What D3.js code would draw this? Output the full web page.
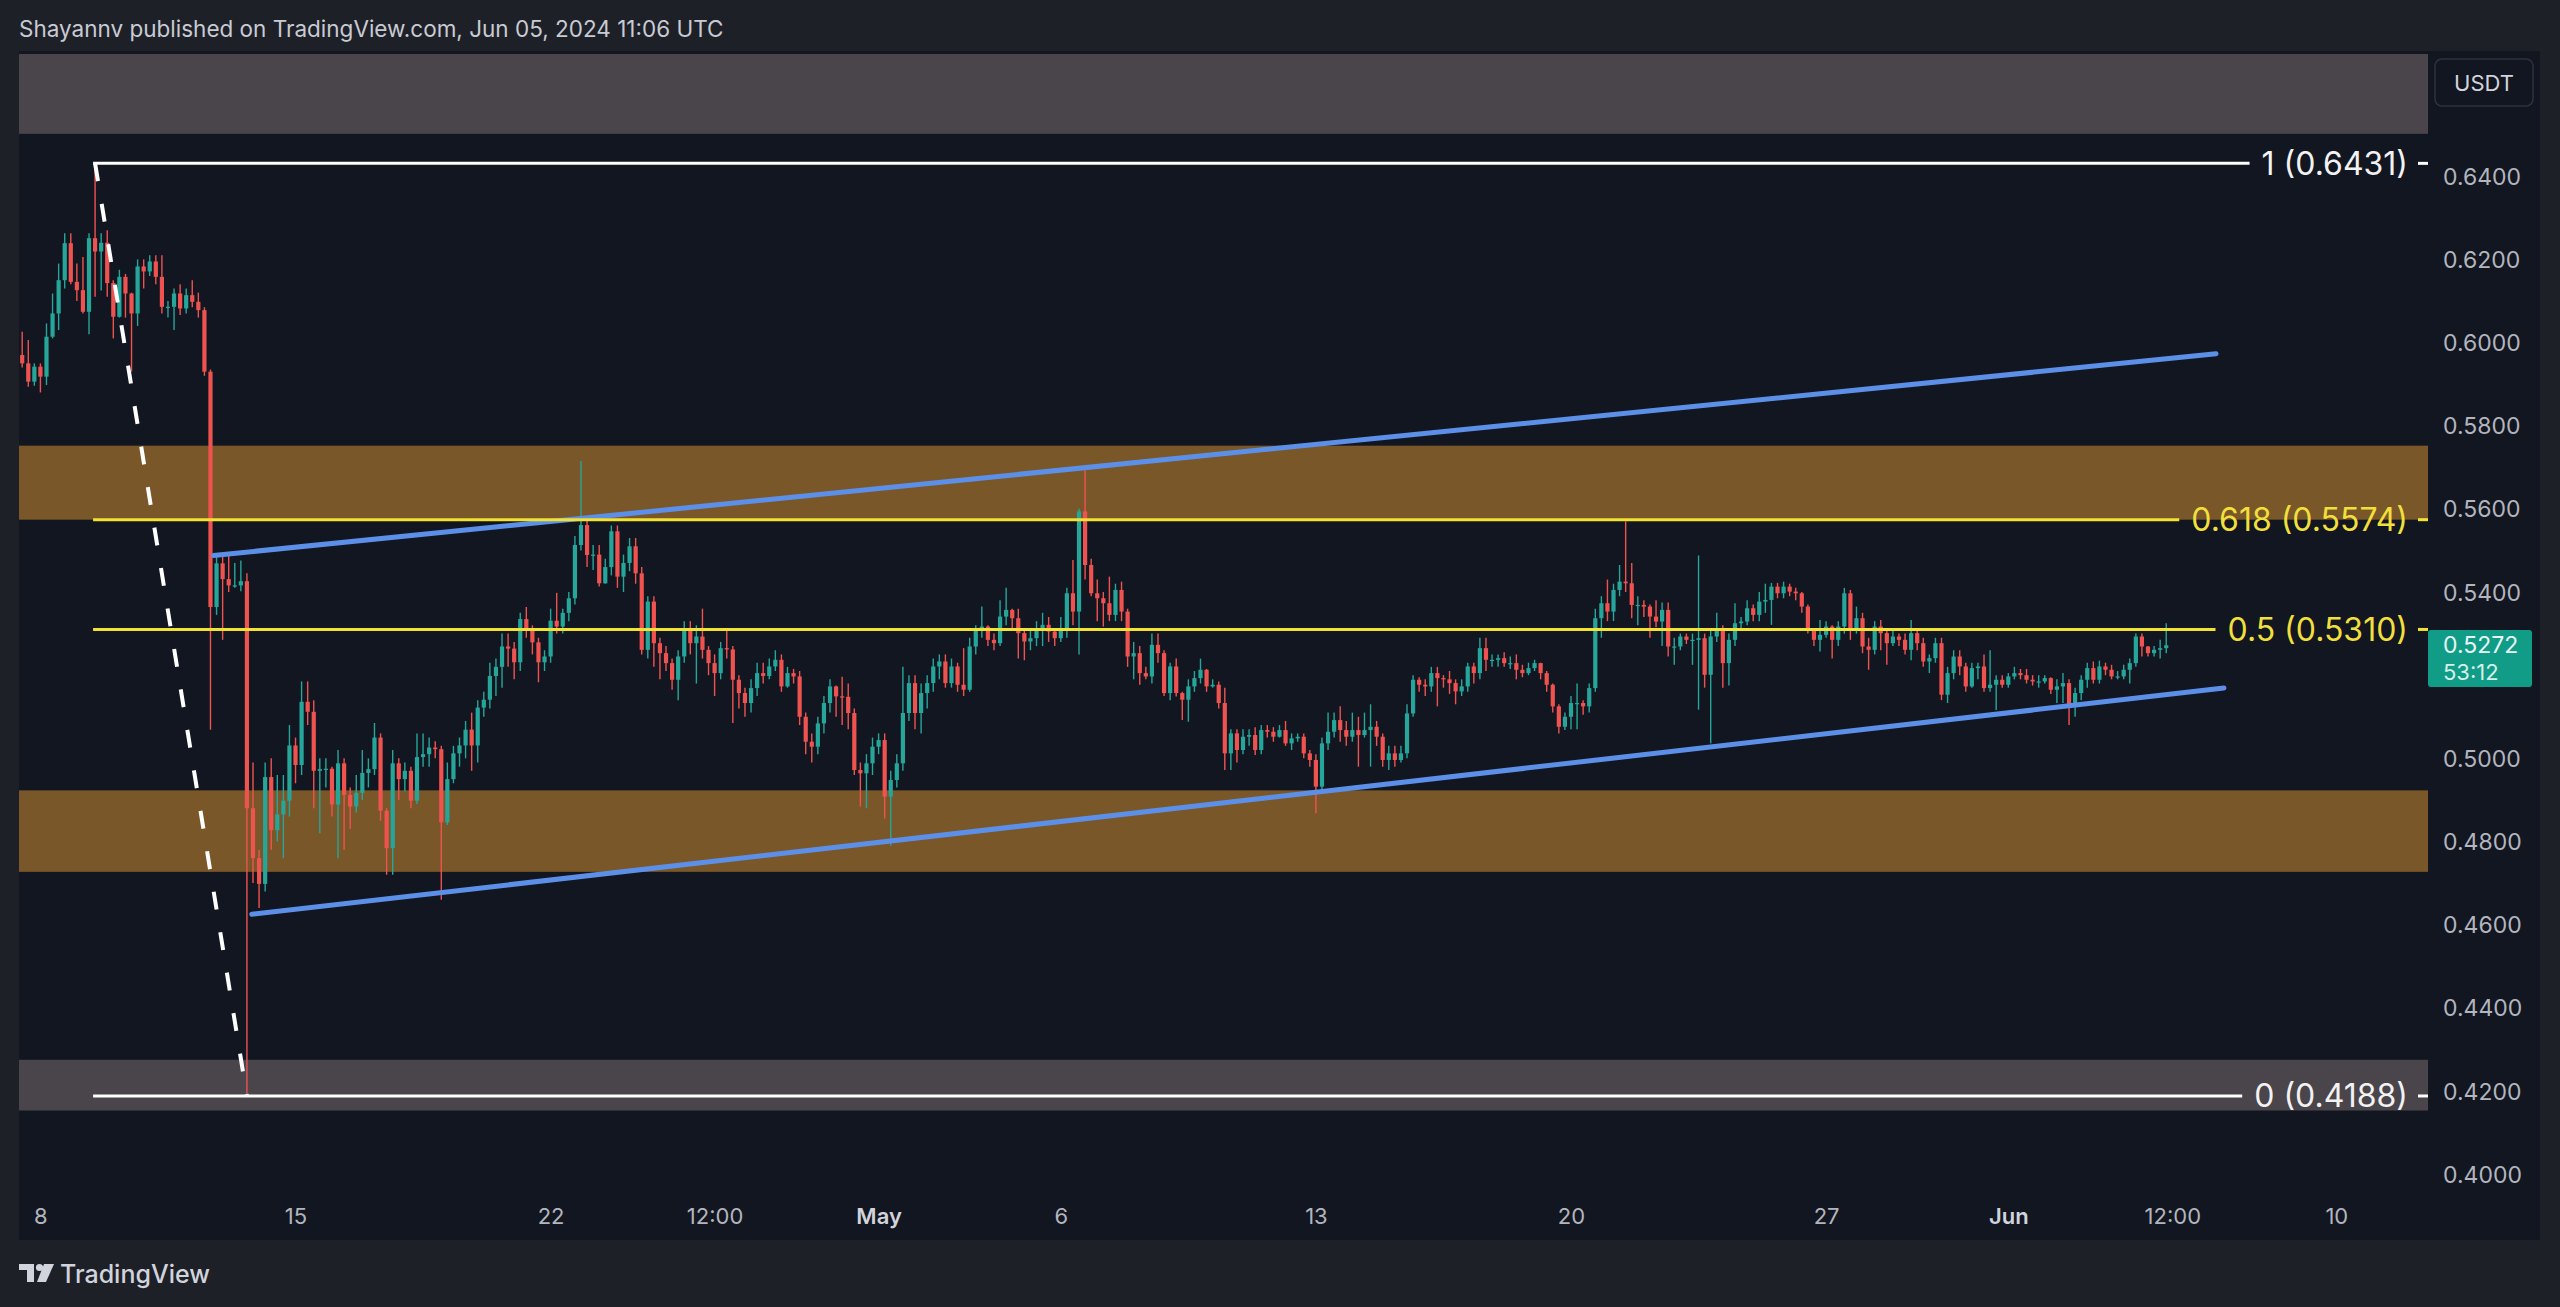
<!DOCTYPE html>
<html><head><meta charset="utf-8">
<script src="https://cdn.jsdelivr.net/npm/d3@7"></script>
<style>
html,body{margin:0;padding:0;background:#1e2028;}
svg{display:block;}
</style></head>
<body><svg id="chart" width="2560" height="1307"></svg>
<script>
// ---------------- DATA (XRP/USDT, 4h candles) ----------------
const firstBarTime = Date.UTC(2024, 3, 7, 12); // Apr 7 2024 12:00 UTC
const firstOpen = 0.5970;
const closes = [
.5950,.5906,.5942,.5918,.6014,.6070,.6150,.6239,.6146,.6126,
.6074,.6251,.6219,.6240,.6143,.6062,.6158,.6118,.6070,.6183,
.6171,.6195,.6158,.6086,.6086,.6118,.6082,.6114,.6098,.6078,
.5930,.5364,.5469,.5431,.5416,.5416,.5426,.4880,.4760,.4698,
.4955,.4827,.4865,.4898,.5031,.4984,.5136,.5112,.4970,.4974,
.4975,.4889,.4988,.4912,.4884,.4917,.4965,.4974,.5050,.4874,
.4784,.4988,.4950,.4970,.4898,.5003,.5010,.5026,.5022,.4846,
.4950,.5012,.5031,.5069,.5031,.5122,.5141,.5198,.5220,.5269,
.5264,.5231,.5335,.5307,.5279,.5231,.5245,.5331,.5317,.5350,
.5385,.5513,.5561,.5489,.5490,.5421,.5460,.5546,.5437,.5470,
.5510,.5445,.5261,.5377,.5277,.5253,.5229,.5189,.5245,.5309,
.5277,.5293,.5261,.5229,.5205,.5265,.5262,.5189,.5157,.5133,
.5169,.5205,.5198,.5221,.5237,.5173,.5205,.5197,.5100,.5040,
.5028,.5084,.5133,.5173,.5149,.5148,.5109,.4972,.4964,.4988,
.5028,.5044,.4908,.4948,.4988,.5109,.5181,.5109,.5157,.5181,
.5221,.5233,.5181,.5221,.5177,.5165,.5269,.5309,.5317,.5285,
.5277,.5341,.5357,.5337,.5301,.5281,.5289,.5313,.5321,.5305,
.5289,.5309,.5397,.5353,.5594,.5465,.5397,.5385,.5373,.5345,
.5405,.5353,.5245,.5253,.5205,.5197,.5273,.5253,.5157,.5221,
.5157,.5141,.5173,.5193,.5213,.5173,.5177,.5133,.5012,.5060,
.5020,.5052,.5056,.5020,.5068,.5064,.5052,.5068,.5036,.5048,
.5052,.5012,.4996,.4932,.5036,.5064,.5092,.5068,.5052,.5068,
.5056,.5068,.5076,.5052,.4996,.5012,.4996,.5012,.5108,.5189,
.5177,.5173,.5205,.5193,.5190,.5181,.5161,.5173,.5221,.5205,
.5265,.5237,.5237,.5241,.5229,.5229,.5213,.5205,.5217,.5229,
.5205,.5177,.5125,.5076,.5100,.5133,.5133,.5125,.5169,.5337,
.5373,.5353,.5405,.5425,.5421,.5369,.5369,.5365,.5341,.5329,
.5357,.5269,.5269,.5293,.5285,.5285,.5289,.5201,.5293,.5313,
.5229,.5285,.5325,.5329,.5361,.5345,.5377,.5381,.5413,.5397,
.5413,.5401,.5397,.5365,.5309,.5285,.5297,.5317,.5285,.5317,
.5397,.5309,.5337,.5269,.5261,.5317,.5301,.5277,.5293,.5285,
.5261,.5301,.5277,.5233,.5241,.5277,.5153,.5205,.5245,.5221,
.5173,.5217,.5221,.5169,.5177,.5189,.5177,.5197,.5205,.5200,
.5189,.5185,.5185,.5193,.5165,.5173,.5181,.5125,.5157,.5189,
.5217,.5189,.5221,.5213,.5197,.5197,.5213,.5229,.5293,.5269,
.5253,.5261,.5265,.5272];
const highs = [
.6026,.6006,.5950,.5950,.6046,.6118,.6190,.6263,.6263,.6190,
.6206,.6263,.6431,.6263,.6270,.6150,.6175,.6165,.6120,.6200,
.6200,.6210,.6210,.6210,.6100,.6130,.6140,.6130,.6150,.6120,
.6085,.5935,.5493,.5493,.5488,.5470,.5476,.5445,.4990,.4780,
.4990,.5000,.4960,.4960,.5080,.5050,.5185,.5185,.5140,.5000,
.5000,.4980,.5020,.5000,.4930,.4960,.5020,.5000,.5085,.5060,
.4880,.5020,.5000,.4990,.4980,.5060,.5060,.5050,.5041,.5030,
.4990,.5030,.5050,.5090,.5110,.5140,.5160,.5230,.5240,.5300,
.5300,.5280,.5350,.5364,.5320,.5290,.5260,.5360,.5398,.5360,
.5400,.5535,.5715,.5574,.5513,.5513,.5480,.5560,.5560,.5490,
.5530,.5530,.5460,.5390,.5390,.5290,.5270,.5240,.5260,.5330,
.5330,.5320,.5360,.5270,.5250,.5280,.5310,.5270,.5200,.5170,
.5190,.5230,.5230,.5240,.5260,.5250,.5220,.5215,.5210,.5110,
.5060,.5100,.5150,.5190,.5175,.5196,.5180,.5120,.4990,.5010,
.5050,.5060,.5060,.4970,.5010,.5220,.5200,.5200,.5180,.5200,
.5240,.5250,.5250,.5240,.5230,.5265,.5290,.5320,.5365,.5320,
.5300,.5380,.5410,.5360,.5360,.5310,.5310,.5330,.5350,.5340,
.5310,.5340,.5410,.5477,.5600,.5702,.5480,.5430,.5400,.5437,
.5420,.5425,.5360,.5280,.5270,.5220,.5300,.5300,.5260,.5230,
.5240,.5160,.5190,.5210,.5240,.5215,.5190,.5185,.5170,.5070,
.5070,.5070,.5070,.5075,.5080,.5080,.5075,.5080,.5090,.5060,
.5060,.5060,.5020,.5010,.5050,.5110,.5110,.5125,.5090,.5110,
.5100,.5110,.5130,.5090,.5060,.5030,.5030,.5030,.5130,.5200,
.5195,.5190,.5220,.5220,.5200,.5210,.5190,.5190,.5230,.5230,
.5290,.5290,.5250,.5250,.5255,.5245,.5250,.5225,.5230,.5237,
.5230,.5210,.5180,.5130,.5110,.5150,.5180,.5140,.5180,.5360,
.5390,.5430,.5420,.5465,.5570,.5470,.5390,.5380,.5370,.5380,
.5375,.5375,.5290,.5300,.5300,.5300,.5488,.5300,.5310,.5350,
.5320,.5300,.5373,.5340,.5380,.5370,.5400,.5420,.5422,.5422,
.5425,.5420,.5410,.5400,.5370,.5310,.5333,.5330,.5320,.5330,
.5410,.5405,.5365,.5350,.5290,.5330,.5333,.5310,.5310,.5300,
.5300,.5333,.5310,.5290,.5250,.5290,.5290,.5220,.5260,.5260,
.5230,.5230,.5230,.5250,.5260,.5200,.5200,.5205,.5220,.5215,
.5215,.5200,.5200,.5200,.5195,.5190,.5205,.5190,.5170,.5200,
.5230,.5233,.5235,.5230,.5225,.5210,.5225,.5240,.5300,.5300,
.5270,.5270,.5285,.5325];
const lows = [
.5940,.5894,.5896,.5880,.5898,.6010,.6030,.6130,.6140,.6100,
.6070,.6020,.6110,.6125,.6110,.6010,.6060,.6060,.5930,.6040,
.6130,.6160,.6140,.6070,.6060,.6030,.6066,.6070,.6085,.6060,
.5920,.5069,.5345,.5285,.5400,.5410,.5402,.4188,.4700,.4640,
.4680,.4780,.4800,.4760,.4860,.4940,.4960,.5080,.4880,.4820,
.4930,.4860,.4760,.4780,.4830,.4870,.4900,.4930,.4960,.4850,
.4720,.4720,.4900,.4920,.4880,.4890,.4980,.4980,.5000,.4660,
.4840,.4940,.4980,.5000,.4970,.4990,.5100,.5120,.5150,.5170,
.5220,.5190,.5210,.5290,.5250,.5183,.5210,.5230,.5300,.5300,
.5330,.5370,.5500,.5460,.5453,.5413,.5420,.5440,.5410,.5400,
.5450,.5420,.5250,.5240,.5220,.5190,.5210,.5165,.5140,.5230,
.5250,.5180,.5240,.5200,.5150,.5190,.5240,.5085,.5120,.5100,
.5110,.5150,.5180,.5190,.5210,.5160,.5170,.5180,.5080,.5010,
.4990,.5010,.5060,.5110,.5100,.5080,.5070,.4960,.4884,.4880,
.4960,.5010,.4855,.4790,.4930,.4970,.5090,.5070,.5060,.5120,
.5160,.5190,.5170,.5170,.5160,.5150,.5160,.5250,.5290,.5270,
.5260,.5270,.5320,.5310,.5240,.5236,.5260,.5270,.5270,.5280,
.5270,.5280,.5290,.5320,.5250,.5430,.5390,.5330,.5317,.5330,
.5330,.5330,.5220,.5190,.5177,.5190,.5180,.5230,.5150,.5140,
.5149,.5092,.5088,.5160,.5180,.5160,.5170,.5120,.4972,.4972,
.4990,.5010,.5030,.5008,.5010,.5050,.5040,.5050,.5030,.5020,
.5040,.5000,.4980,.4868,.4920,.5020,.5050,.5040,.5030,.5040,
.4980,.5050,.4980,.5030,.4980,.4972,.4980,.4990,.5000,.5100,
.5160,.5150,.5160,.5125,.5170,.5155,.5130,.5150,.5160,.5180,
.5190,.5210,.5220,.5220,.5220,.5215,.5190,.5195,.5200,.5210,
.5190,.5160,.5110,.5060,.5068,.5070,.5070,.5105,.5110,.5160,
.5290,.5330,.5330,.5390,.5400,.5337,.5320,.5340,.5290,.5315,
.5270,.5245,.5225,.5260,.5275,.5225,.5117,.5170,.5036,.5280,
.5170,.5175,.5270,.5310,.5320,.5330,.5330,.5350,.5321,.5385,
.5385,.5390,.5380,.5350,.5300,.5270,.5257,.5290,.5240,.5270,
.5300,.5285,.5300,.5253,.5213,.5250,.5260,.5225,.5270,.5270,
.5250,.5236,.5260,.5220,.5205,.5230,.5140,.5133,.5190,.5200,
.5160,.5170,.5190,.5160,.5160,.5116,.5170,.5170,.5190,.5190,
.5180,.5175,.5170,.5180,.5155,.5133,.5133,.5080,.5100,.5140,
.5170,.5180,.5180,.5200,.5190,.5190,.5190,.5180,.5220,.5245,
.5245,.5245,.5240,.5253];

// 0.5200 sits under the last-price label in the reference, so it is not shown
const yTicks = [0.40,0.42,0.44,0.46,0.48,0.50,0.54,0.56,0.58,0.60,0.62,0.64];
const xTickDates = [
  Date.UTC(2024,3,8), Date.UTC(2024,3,15), Date.UTC(2024,3,22), Date.UTC(2024,3,26,12),
  Date.UTC(2024,4,1), Date.UTC(2024,4,6), Date.UTC(2024,4,13), Date.UTC(2024,4,20),
  Date.UTC(2024,4,27), Date.UTC(2024,5,1), Date.UTC(2024,5,5,12), Date.UTC(2024,5,10)];
const xTickLabels = ["8","15","22","12:00","May","6","13","20","27","Jun","12:00","10"];
const xTickBold = ["May","Jun"];

// Fibonacci retracement drawn from the Apr 9 high (bar 12) to the Apr 13 low (bar 37)
const fibAnchorBars = [12, 37];
const fibLevels = ["1", "0.618", "0.5", "0"];
const fibPrices = [0.6431, 0.5574, 0.5310, 0.4188];
// Zones (price ranges)
const grayZones = [[0.6502, 0.6700], [0.4153, 0.4275]];
const orangeZones = [[0.5574, 0.5752], [0.4727, 0.4923]];
// Ascending channel lines: [barIndex, price] end points
const upperChannel = [[31.5, 0.5488], [361.2, 0.5973]];
const lowerChannel = [[37.8, 0.4625], [362.5, 0.5169]];
const lastPrice = "0.5272", countdown = "53:12", quoteCurrency = "USDT";
const headerText = "Shayannv published on TradingView.com, Jun 05, 2024 11:06 UTC";

// ---------------- LAYOUT ----------------
const W = 2560, H = 1307, BAR_MS = 4 * 3600 * 1000;
const panel = {x0: 19, x1: 2540, y0: 51, y1: 1240};
const plot = {x0: 19, x1: 2428, y0: 54, y1: 1197};
const FONT = "Inter, 'Noto Sans', 'Liberation Sans', sans-serif";
const C = {outer:"#1e2028", panel:"#121620", gray:"#4a444b", orange:"#7a5728",
  up:"#26a69a", down:"#ef5350", yellow:"#f2e233", yellowText:"#f0df3c", white:"#ffffff",
  blue:"#5c90e8", axisText:"#b2b5be", header:"#c8cbd3"};

const barTime = i => new Date(firstBarTime + i * BAR_MS);
const x = d3.scaleUtc()
  .domain([barTime(-0.527), barTime(396.1)])
  .range([plot.x0, plot.x1]);
const y = d3.scaleLinear().domain([0.3945, 0.6694]).range([plot.y1, plot.y0]);

const candles = closes.map((c, i) => {
  const o = i === 0 ? firstOpen : closes[i - 1];
  return {t: barTime(i), o, c, h: Math.max(highs[i], o, c), l: Math.min(lows[i], o, c)};
});

const svg = d3.select("#chart");
svg.append("rect").attr("width", W).attr("height", H).attr("fill", C.outer);
svg.append("rect").attr("x", panel.x0).attr("y", panel.y0)
  .attr("width", panel.x1 - panel.x0).attr("height", panel.y1 - panel.y0).attr("fill", C.panel);

svg.append("defs").append("clipPath").attr("id", "clip").append("rect")
  .attr("x", plot.x0).attr("y", plot.y0).attr("width", plot.x1 - plot.x0).attr("height", plot.y1 - plot.y0);
const g = svg.append("g").attr("clip-path", "url(#clip)");

// zones
g.selectAll("rect.gz").data(grayZones).join("rect").attr("class", "gz")
  .attr("x", plot.x0).attr("width", plot.x1 - plot.x0)
  .attr("y", d => y(d[1])).attr("height", d => y(d[0]) - y(d[1])).attr("fill", C.gray);
g.selectAll("rect.oz").data(orangeZones).join("rect").attr("class", "oz")
  .attr("x", plot.x0).attr("width", plot.x1 - plot.x0)
  .attr("y", d => y(d[1])).attr("height", d => y(d[0]) - y(d[1])).attr("fill", C.orange);

// fib lines + labels
const fibStartX = x(barTime(fibAnchorBars[0])) - 2;
const labelRight = 2408;
const fibG = svg.append("g");
fibLevels.forEach((lv, k) => {
  const p = fibPrices[k];
  const col = (lv === "1" || lv === "0") ? C.white : C.yellow;
  const tcol = (lv === "1" || lv === "0") ? "#f2f2f2" : C.yellowText;
  const t = fibG.append("text").attr("x", labelRight).attr("y", y(p))
    .attr("text-anchor", "end").attr("dominant-baseline", "central")
    .attr("font-family", FONT).attr("font-size", 32).attr("fill", tcol)
    .text(`${lv} (${p.toFixed(4)})`);
  const tw = t.node().getComputedTextLength();
  fibG.insert("line", "text").attr("x1", fibStartX).attr("x2", labelRight - tw - 12)
    .attr("y1", y(p)).attr("y2", y(p)).attr("stroke", col).attr("stroke-width", 3);
  fibG.insert("line", "text").attr("x1", labelRight + 10).attr("x2", plot.x1)
    .attr("y1", y(p)).attr("y2", y(p)).attr("stroke", col).attr("stroke-width", 3);
});

// candles
const bw = 4.2;
const cg = g.append("g");
cg.selectAll("line.wick").data(candles).join("line").attr("class", "wick")
  .attr("x1", d => x(d.t)).attr("x2", d => x(d.t))
  .attr("y1", d => y(d.h)).attr("y2", d => y(d.l))
  .attr("stroke", d => d.c >= d.o ? C.up : C.down).attr("stroke-width", 1.4);
cg.selectAll("rect.body").data(candles).join("rect").attr("class", "body")
  .attr("x", d => x(d.t) - bw / 2).attr("width", bw)
  .attr("y", d => y(Math.max(d.o, d.c)))
  .attr("height", d => Math.max(1.2, Math.abs(y(d.o) - y(d.c))))
  .attr("fill", d => d.c >= d.o ? C.up : C.down);

// channel lines
[upperChannel, lowerChannel].forEach(ch => {
  g.append("line")
    .attr("x1", x(barTime(ch[0][0]))).attr("y1", y(ch[0][1]))
    .attr("x2", x(barTime(ch[1][0]))).attr("y2", y(ch[1][1]))
    .attr("stroke", C.blue).attr("stroke-width", 5).attr("stroke-linecap", "round");
});

// dashed fib trend line
g.append("line")
  .attr("x1", x(barTime(fibAnchorBars[0]))).attr("y1", y(fibPrices[0]))
  .attr("x2", x(barTime(fibAnchorBars[1]))).attr("y2", y(fibPrices[3]))
  .attr("stroke", C.white).attr("stroke-width", 4).attr("stroke-dasharray", "18 23");

// y axis
const yAxis = d3.axisRight(y).tickValues(yTicks).tickSize(0).tickPadding(0).tickFormat(d3.format(".4f"));
const ya = svg.append("g").attr("transform", `translate(2443,0)`).call(yAxis);
ya.select(".domain").remove();
ya.selectAll("text").attr("font-family", FONT).attr("font-size", 23).attr("fill", C.axisText)
  .attr("dy", "0.35em").attr("x", 0);

// x axis
const xAxis = d3.axisBottom(x).tickValues(xTickDates.map(d => new Date(d))).tickSize(0)
  .tickFormat((d, i) => xTickLabels[i]);
const xa = svg.append("g").attr("transform", `translate(0,${plot.y1})`).call(xAxis);
xa.select(".domain").remove();
xa.selectAll("text").attr("font-family", FONT).attr("font-size", 22)
  .attr("y", 19).attr("dy", "0.35em")
  .attr("fill", (d, i) => xTickBold.includes(xTickLabels[i]) ? "#d1d4dc" : C.axisText)
  .attr("font-weight", (d, i) => xTickBold.includes(xTickLabels[i]) ? 600 : 400);

// USDT box
svg.append("rect").attr("x", 2435).attr("y", 59).attr("width", 98).attr("height", 47).attr("rx", 7)
  .attr("fill", C.panel).attr("stroke", "#2e323c").attr("stroke-width", 1.5);
svg.append("text").attr("x", 2484).attr("y", 83).attr("text-anchor", "middle").attr("dominant-baseline", "central")
  .attr("font-family", FONT).attr("font-size", 22).attr("fill", "#d1d4dc").text(quoteCurrency);

// last price label
svg.append("rect").attr("x", 2428).attr("y", 630).attr("width", 104).attr("height", 57).attr("rx", 3)
  .attr("fill", "#119c87");
svg.append("text").attr("x", 2443).attr("y", 645).attr("dominant-baseline", "central")
  .attr("font-family", FONT).attr("font-size", 23).attr("fill", "#e8f6f3").text(lastPrice);
svg.append("text").attr("x", 2443).attr("y", 672).attr("dominant-baseline", "central")
  .attr("font-family", FONT).attr("font-size", 22).attr("fill", "#d5efe9").text(countdown);

// header
svg.append("text").attr("x", 19).attr("y", 28).attr("dominant-baseline", "central")
  .attr("font-family", FONT).attr("font-size", 22.5).attr("fill", C.header).text(headerText);

// TradingView logo
const lg = svg.append("g").attr("fill", "#d1d4dc");
lg.append("path").attr("d", "M19,1264 H34 V1282 H27 V1270 H19 Z");
lg.append("circle").attr("cx", 39.5).attr("cy", 1267.5).attr("r", 3.6);
lg.append("path").attr("d", "M44,1264 H54 L46,1282 H37 Z");
svg.append("text").attr("x", 60).attr("y", 1274).attr("dominant-baseline", "central")
  .attr("font-family", FONT).attr("font-size", 25).attr("font-weight", 500).attr("fill", "#d1d4dc")
  .text("TradingView");
</script>
</body></html>
